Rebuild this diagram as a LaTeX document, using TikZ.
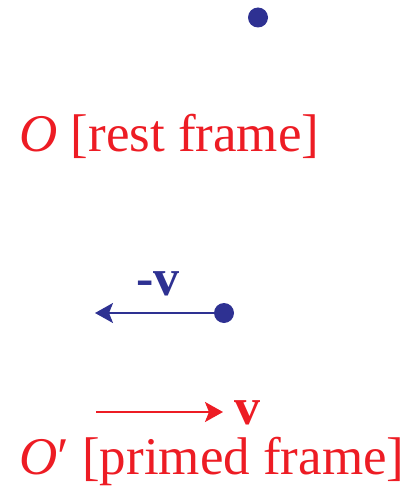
\documentclass[tikz,border=0pt]{standalone}
\usepackage{fontspec}
\setmainfont{Liberation Serif}
\definecolor{framered}{RGB}{237,28,36}
\definecolor{dotblue}{RGB}{46,49,146}
\usetikzlibrary{arrows.meta,positioning}
\tikzset{
  particle/.style={circle, fill=dotblue, inner sep=0pt, minimum size=20pt},
  velarrow/.style={-{Stealth[length=18pt, width=20pt, inset=4pt]}, line width=2pt},
  framelabel/.style={anchor=base west, text=framered, font=\fontsize{53}{60}\selectfont, inner sep=0pt},
  vellabel/.style={anchor=base, font=\fontsize{52}{60}\selectfont\bfseries, inner sep=0pt}
}

\begin{document}
\begin{tikzpicture}[x=1pt, y=-1pt]
  \useasboundingbox (0,0) rectangle (413,487);

  % Particle at rest in O
  \node[particle] (restdot) at (258,17.5) {};

  % Rest frame label
  \node[framelabel] (restlabel) at (19,151) {\textit{O} [rest frame]};

  % Particle seen from O' moving with -v
  \coordinate (minusvtip) at (95,313);
  \draw[velarrow, dotblue] (224,313) -- (minusvtip);
  \node[particle] (movingdot) at (224,313) {};
  \node[vellabel, text=dotblue] (minusv) at (158,295) {-v};

  % Frame velocity v
  \coordinate (vtail) at (96,412);
  \coordinate (vtip) at (223,412);
  \draw[velarrow, framered] (vtail) -- (vtip);
  \node[vellabel, text=framered] (vlabel) at (247.5,424) {v};

  % Primed frame label
  \node[framelabel] (primedlabel) at (19,474) {\textit{O}′ [primed frame]};
\end{tikzpicture}
\end{document}
